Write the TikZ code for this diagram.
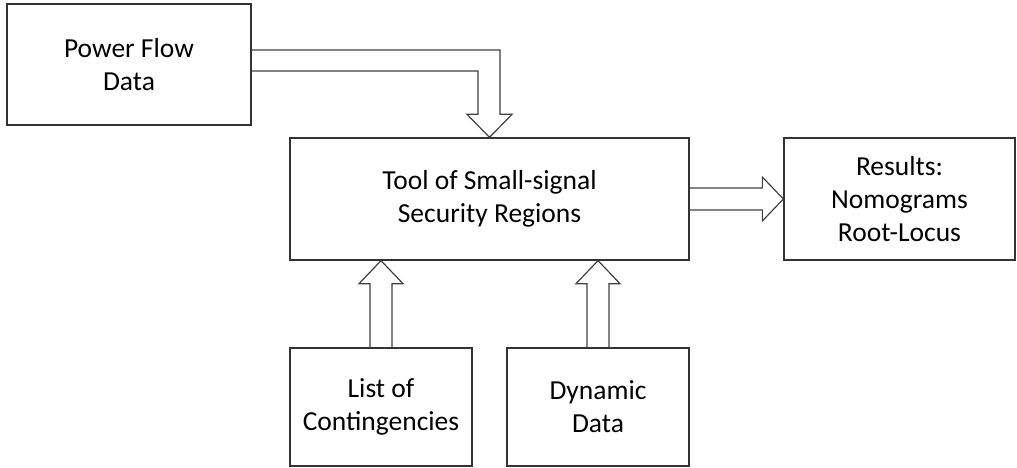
\documentclass[tikz,border=0pt]{standalone}
\usepackage{fontspec}
\setmainfont{Carlito}
\usetikzlibrary{calc}
\begin{document}
\begin{tikzpicture}[x=1pt,y=-1pt,
  box/.style={draw=black!80,line width=1.3pt,fill=white,align=center,inner sep=0pt,
    text=black,font=\fontsize{27.5}{33}\selectfont},
  blk/.style={draw=black!75,line width=1.2pt,line join=miter}]
\useasboundingbox (0,0) rectangle (1017,468);
\node[box,minimum width=244pt,minimum height=121pt] (pf) at (129,64.5) {Power Flow\\Data};
\node[box,minimum width=399pt,minimum height=122pt] (tool) at (489.5,199) {Tool of Small-signal\\Security Regions};
\node[box,minimum width=231pt,minimum height=122pt] (res) at (899.5,199) {Results:\\Nomograms\\Root-Locus};
\node[box,minimum width=182pt,minimum height=118pt] (list) at (381,407) {List of\\Contingencies};
\node[box,minimum width=182pt,minimum height=118pt] (dyn) at (598,407) {Dynamic\\Data};
% Power flow -> tool
\draw[blk] ($(pf.east)+(0,-14.5)$) -| ($(tool.north)+(10.5,-23)$) -- ++(12,0) -- (tool.north)
  -- ($(tool.north)+(-22.5,-23)$) -- ++(11,0) |- ($(pf.east)+(0,6.5)$);
% tool -> results
\draw[blk] ($(tool.east)+(0,-11)$) -- ($(res.west)+(-21,-11)$) -- ++(0,-11) -- (res.west)
  -- ($(res.west)+(-21,22)$) -- ++(0,-11) -- ($(tool.east)+(0,11)$);
% list -> tool
\coordinate (t1) at (list.north |- tool.south);
\draw[blk] ($(list.north)+(-11,0)$) -- ($(t1)+(-11,23)$) -- ++(-11,0) -- (t1)
  -- ($(t1)+(22,23)$) -- ++(-11,0) -- ($(list.north)+(11,0)$);
% dyn -> tool
\coordinate (t2) at (dyn.north |- tool.south);
\draw[blk] ($(dyn.north)+(-11,0)$) -- ($(t2)+(-11,23)$) -- ++(-11,0) -- (t2)
  -- ($(t2)+(22,23)$) -- ++(-11,0) -- ($(dyn.north)+(11,0)$);
\end{tikzpicture}
\end{document}
